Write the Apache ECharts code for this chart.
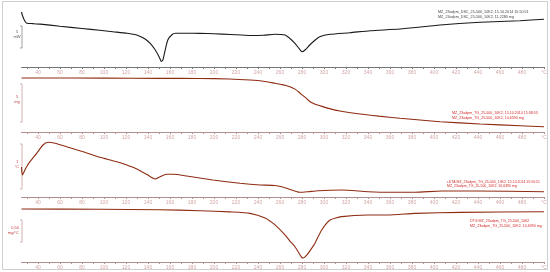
<!DOCTYPE html>
<html>
<head>
<meta charset="utf-8">
<script src="https://cdn.jsdelivr.net/npm/echarts@6/dist/echarts.min.js"></script>
<style>
  html, body { margin: 0; padding: 0; background: #fff; }
  #chart { width: 550px; height: 272px; }
</style>
</head>
<body>
<div id="chart"></div>
<script>
// temperature ticks (°C)
var tickValues = [30, 40, 50, 60, 70, 80, 90, 100, 110, 120, 130, 140, 150, 160, 170, 180, 190, 200, 210, 220, 230, 240, 250, 260, 270, 280, 290, 300, 310, 320, 330, 340, 350, 360, 370, 380, 390, 400, 410, 420, 430, 440, 450, 460, 470, 480, 490, 500]
var labelValues = [40, 60, 80, 100, 120, 140, 160, 180, 200, 220, 240, 260, 280, 300, 320, 340, 360, 380, 400, 420, 440, 460, 480, 500]

// DSC (mW)
var dscTemp = [25, 26, 28, 30, 35, 42, 60, 80, 96, 108, 121, 128, 133, 138, 142, 146, 149, 151, 152, 153.5, 155, 158, 162, 165, 175, 187, 200, 215, 233, 245, 255, 264.5, 269, 273.6, 277, 280, 282.7, 287, 292, 296, 305.5, 323.6, 342, 369, 405.5, 442, 478, 500]
var dscHeat = [-1.58, -2.48, -3.61, -4.13, -4.2, -4.31, -4.79, -5.31, -5.71, -6.03, -6.37, -6.66, -7.11, -7.79, -8.69, -9.94, -11.18, -12.19, -12.76, -12.42, -10.84, -7.9, -6.66, -6.39, -6.37, -6.41, -6.5, -6.66, -6.89, -6.84, -6.62, -6.77, -7.56, -8.65, -9.71, -10.55, -10.16, -9.03, -7.9, -7.16, -6.62, -6.25, -5.8, -5.42, -4.52, -3.91, -3.55, -3.23]

// TG (%)
var tgTemp = [25, 40, 100, 150, 187, 214, 233, 245, 255.5, 262, 269, 274, 278, 283, 287.3, 292, 296.4, 305, 314.5, 332.7, 350, 369, 405.5, 441.8, 478.2, 500]
var tgMass = [100, 100, 99.9, 99.7, 99.6, 99.2, 98.3, 97.3, 95.6, 94.5, 92.75, 90.5, 87.5, 83.8, 80.25, 78.2, 76.9, 74.5, 72.5, 70, 68.2, 66.4, 63.6, 61.7, 60.25, 59.4]

// DTA
var dtaTemp = [25, 25.8, 29, 32.7, 38.8, 44.5, 49, 55.5, 66, 81, 96.4, 111.5, 126.4, 138.8, 146.4, 151, 157, 163, 175.2, 199, 223.6, 241.8, 255.5, 264.5, 278, 285.5, 294.5, 316, 340, 361.5, 382.7, 407, 437.3, 500]
var dtaVal = [3.0, 2.2, 2.9, 3.53, 4.37, 5.2, 5.47, 5.37, 5.03, 4.53, 3.97, 3.53, 2.97, 2.27, 1.8, 2.03, 2.27, 2.27, 2.1, 1.7, 1.37, 1.2, 1.15, 0.93, 0.47, 0.53, 0.63, 0.7, 0.53, 0.47, 0.47, 0.6, 0.6, 0.53]

// DTG
var dtgTemp = [25, 96.4, 150, 187.3, 214.5, 232.7, 246.4, 255.5, 264.5, 269, 273.6, 279.7, 281, 284.3, 288, 291.8, 297.9, 305.5, 316, 340, 358, 382.7, 425, 500]
var dtgVal = [0, -0.01, -0.03, -0.08, -0.14, -0.21, -0.44, -0.78, -1.27, -1.57, -1.85, -2.37, -2.4, -2.26, -1.99, -1.68, -1.03, -0.54, -0.37, -0.29, -0.29, -0.21, -0.16, -0.13]

function pairs(xs, ys) {
  return xs.map(function (x, i) { return [x, ys[i]] })
}

var chart = echarts.init(document.getElementById('chart'))

var font = 'Liberation Sans'
var red = '#d42a2a'
var curveRed = '#8e2c12'

function xAxisFor(idx, lineColor) {
  return {
    type: 'value',
    gridIndex: idx,
    min: 25,
    max: 500,
    axisLine: { show: true, onZero: false, lineStyle: { color: lineColor, width: 1 } },
    axisTick: { show: true, length: 2, customValues: tickValues, lineStyle: { color: lineColor } },
    axisLabel: {
      show: true,
      customValues: labelValues,
      fontSize: 5,
      fontFamily: font,
      color: '#d3a6a6',
      margin: 3,
      formatter: function (v) { return v === 500 ? '°C' : String(v) }
    },
    splitLine: { show: false }
  }
}

function yAxisFor(idx, mn, mx) {
  return { type: 'value', gridIndex: idx, min: mn, max: mx, show: false }
}

function bracket(x, y1, y2, color) {
  return {
    type: 'polyline',
    shape: { points: [[x - 2, y1], [x, y1], [x, y2], [x - 2, y2]] },
    style: { stroke: color, lineWidth: 0.8, fill: null },
    silent: true
  }
}

function txt(x, y, s, color, align, size) {
  return {
    type: 'text',
    x: x,
    y: y,
    style: { text: s, fill: color, font: (size || 4) + 'px ' + font, textAlign: align || 'left', textVerticalAlign: 'middle' },
    silent: true
  }
}

var option = {
  animation: false,
  backgroundColor: '#fff',
  grid: [
    { left: 21.5, right: 6, top: 5, height: 62 },
    { left: 21.5, right: 6, top: 72, height: 60 },
    { left: 21.5, right: 6, top: 140, height: 57 },
    { left: 21.5, right: 6, top: 205, height: 57 }
  ],
  xAxis: [
    xAxisFor(0, '#777'),
    xAxisFor(1, '#b09090'),
    xAxisFor(2, '#b09090'),
    xAxisFor(3, '#b09090')
  ],
  yAxis: [
    yAxisFor(0, -14, 0),
    yAxisFor(1, 55, 105),
    yAxisFor(2, 0, 5.7),
    yAxisFor(3, -2.6, 0.2)
  ],
  series: [
    {
      name: 'DSC', type: 'line', xAxisIndex: 0, yAxisIndex: 0,
      data: pairs(dscTemp, dscHeat), showSymbol: false, smooth: 0.2,
      lineStyle: { color: '#1a1a1a', width: 1.1 }
    },
    {
      name: 'TG', type: 'line', xAxisIndex: 1, yAxisIndex: 1,
      data: pairs(tgTemp, tgMass), showSymbol: false, smooth: 0.2,
      lineStyle: { color: curveRed, width: 1.1 }
    },
    {
      name: 'DTA', type: 'line', xAxisIndex: 2, yAxisIndex: 2,
      data: pairs(dtaTemp, dtaVal), showSymbol: false, smooth: 0.2,
      lineStyle: { color: curveRed, width: 1.1 }
    },
    {
      name: 'DTG', type: 'line', xAxisIndex: 3, yAxisIndex: 3,
      data: pairs(dtgTemp, dtgVal), showSymbol: false, smooth: 0.2,
      lineStyle: { color: curveRed, width: 1.1 }
    }
  ],
  graphic: [
    {
      type: 'rect',
      shape: { x: 2.5, y: 1.5, width: 545, height: 268 },
      style: { stroke: '#cfcfcf', lineWidth: 1, fill: null },
      silent: true
    },
    // scale bars
    bracket(22, 26, 48, '#888'),
    txt(17, 32, '5', '#555', 'center'),
    txt(17, 37, 'mW', '#555', 'center'),
    bracket(22, 84, 122, '#c9a0a0'),
    txt(17, 97, '5', '#c04040', 'center'),
    txt(17, 102, 'mg', '#c04040', 'center'),
    bracket(22, 144, 189, '#c9a0a0'),
    txt(17, 162, '1', '#c04040', 'center'),
    txt(17, 167, '°C', '#c04040', 'center'),
    bracket(22, 220, 242, '#c9a0a0'),
    txt(19, 228, '0,50', '#c04040', 'right'),
    txt(19, 233, 'mg/°C', '#c04040', 'right'),
    // legends
    txt(438, 12, 'MZ_23adpm_DSC_25-500_10K2, 15.10.2014 15:50:51', '#444', 'left', 3.7),
    txt(438, 16.5, 'MZ_23adpm_DSC_25-500_10K2, 11,2280 mg', '#444', 'left', 3.7),
    txt(452, 113, 'MZ_23adpm_TG_25-500_10K2, 15.10.2014 15:38:53', red, 'left', 3.6),
    txt(452, 117.5, 'MZ_23adpm_TG_25-500_10K2, 10,6390 mg', red, 'left', 3.6),
    txt(447, 182, 'cDTA MZ_23adpm_TG_25-500_10K2, 15.10.2014 15:50:51', red, 'left', 3.5),
    txt(447, 186.5, 'MZ_23adpm_TG_25-500_10K2, 10,6390 mg', red, 'left', 3.5),
    txt(470, 221, 'DTG MZ_23adpm_TG_25-500_10K2', red, 'left', 3.6),
    txt(470, 225.5, 'MZ_23adpm_TG_25-500_10K2, 10,6390 mg', red, 'left', 3.6)
  ]
}

chart.setOption(option)
</script>
</body>
</html>
